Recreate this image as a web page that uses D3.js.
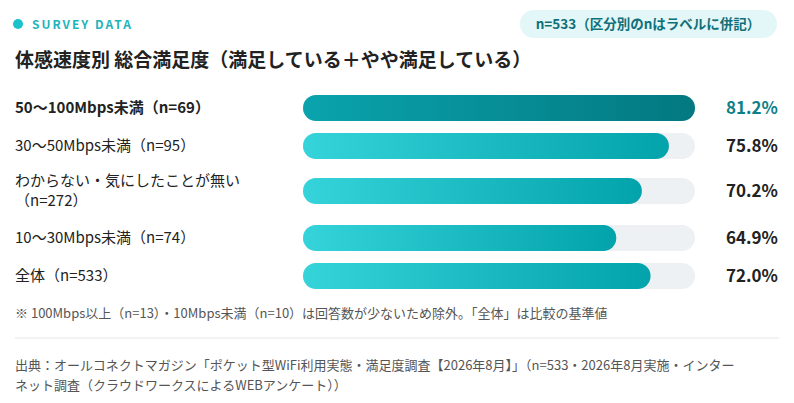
<!DOCTYPE html>
<html><head><meta charset="utf-8">
<script src="https://cdn.jsdelivr.net/npm/d3@7"></script>
<style>
body{margin:0;background:#fff;font-family:"Noto Sans CJK JP","Noto Sans",sans-serif;}
</style></head>
<body><svg id="c" width="794" height="403"></svg>
<script>
const labels = [["50〜100Mbps未満（n=69）"],["30〜50Mbps未満（n=95）"],["わからない・気にしたことが無い","（n=272）"],["10〜30Mbps未満（n=74）"],["全体（n=533）"]];
const values = [81.2, 75.8, 70.2, 64.9, 72.0];
const rowY = [108, 146, 191, 238, 276];

const svg = d3.select("#c");
const defs = svg.append("defs");
const g1 = defs.append("linearGradient").attr("id","gTop");
g1.append("stop").attr("offset","0").attr("stop-color","#0aa3ad");
g1.append("stop").attr("offset","1").attr("stop-color","#037880");
const g2 = defs.append("linearGradient").attr("id","gOther");
g2.append("stop").attr("offset","0").attr("stop-color","#35d3da");
g2.append("stop").attr("offset","1").attr("stop-color","#03a3ab");

// header
svg.append("circle").attr("cx",18).attr("cy",24).attr("r",5).attr("fill","#19c2cc");
svg.append("text").attr("x",32).attr("y",29).text("SURVEY DATA")
  .attr("font-size",12).attr("font-weight",700).attr("letter-spacing",2).attr("fill","#1fb3bd");
svg.append("rect").attr("x",520).attr("y",10).attr("width",257).attr("height",28).attr("rx",14).attr("fill","#e3f6f8");
svg.append("text").attr("x",648).attr("y",29).attr("text-anchor","middle").attr("font-size",13.5).attr("font-weight",700)
  .attr("fill","#10707a").text("n=533（区分別のnはラベルに併記）");
svg.append("text").attr("x",15).attr("y",67).attr("font-size",19).attr("font-weight",700).attr("fill","#222")
  .text("体感速度別 総合満足度（満足している＋やや満足している）");

const x = d3.scaleLinear().domain([0, d3.max(values)]).range([303, 695]);
const bh = 26;

const row = svg.selectAll("g.row").data(values).enter().append("g").attr("class","row");
row.append("rect").attr("x",x(0)).attr("y",(d,i)=>rowY[i]-bh/2).attr("width",x.range()[1]-x(0)).attr("height",bh)
  .attr("rx",bh/2).attr("fill","#edf1f4");
row.append("rect").attr("x",x(0)).attr("y",(d,i)=>rowY[i]-bh/2).attr("width",d=>x(d)-x(0)).attr("height",bh)
  .attr("rx",bh/2).attr("fill",(d,i)=>i==0?"url(#gTop)":"url(#gOther)");
row.append("text").attr("x",778).attr("y",(d,i)=>rowY[i]+6).attr("text-anchor","end")
  .attr("font-size",17).attr("font-weight",700).attr("fill",(d,i)=>i==0?"#0e7f88":"#222")
  .text(d=>d.toFixed(1)+"%");
row.append("text").attr("font-size",15).attr("fill","#222").attr("font-weight",(d,i)=>i==0?700:400)
  .each(function(d,i){
    const t = d3.select(this), L = labels[i];
    const y0 = rowY[i] + 5 - (L.length-1)*10;
    L.forEach((s,k)=>t.append("tspan").attr("x",15).attr("y",y0+k*20).text(s));
  });

svg.append("text").attr("x",15).attr("y",318).attr("font-size",13).attr("fill","#555")
  .text("※ 100Mbps以上（n=13）・10Mbps未満（n=10）は回答数が少ないため除外。「全体」は比較の基準値");
svg.append("line").attr("x1",15).attr("x2",779).attr("y1",338).attr("y2",338).attr("stroke","#e3e6e8");
svg.append("text").attr("x",15).attr("y",370).attr("font-size",13).attr("fill","#555")
  .text("出典：オールコネクトマガジン「ポケット型WiFi利用実態・満足度調査【2026年8月】」（n=533・2026年8月実施・インター");
svg.append("text").attr("x",15).attr("y",390).attr("font-size",13).attr("fill","#555")
  .text("ネット調査（クラウドワークスによるWEBアンケート））");
</script></body></html>
